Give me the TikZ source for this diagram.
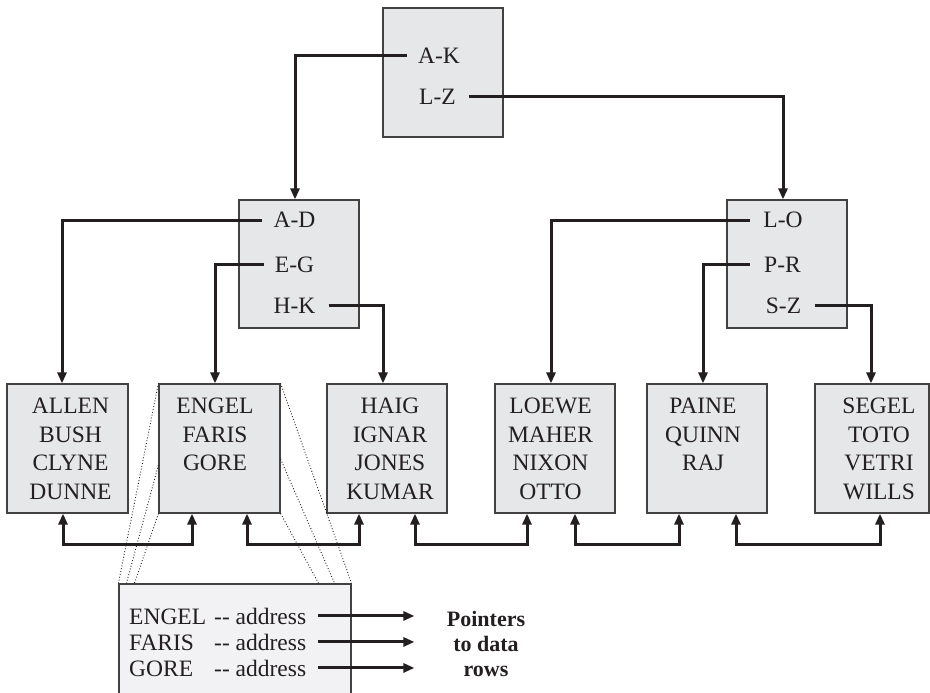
\documentclass[tikz,border=0pt]{standalone}
\usepackage{fontspec}
\setmainfont{Liberation Serif}
\usetikzlibrary{arrows.meta}
\definecolor{boxfill}{RGB}{230,231,233}
\definecolor{addrfill}{RGB}{242,242,244}
\definecolor{ink}{RGB}{35,31,32}
\begin{document}
\begin{tikzpicture}[x=1pt,y=-1pt,
  box/.style={draw=ink!85, line width=1.2pt, fill=boxfill, inner sep=0, minimum width=120pt, minimum height=129pt},
  lbl/.style={inner sep=0, text=ink, font=\fontsize{23.5}{28.5}\selectfont},
  conn/.style={draw=ink, line width=3pt, -{Triangle[length=11pt,width=9pt]}},
  link/.style={draw=ink, line width=3pt, {Triangle[length=11pt,width=9pt]}-{Triangle[length=11pt,width=9pt]}},
  dots/.style={draw=ink, line width=0.9pt, dotted}]
\clip (0,0) rectangle (930,693);
% boxes
\node[box] (T) at (443,72.5) {};
\node[box, minimum height=128pt] (ML) at (299,264) {};
\node[box, minimum height=128pt] (MR) at (787,264) {};
\node[box, minimum width=121pt] (B1) at (67.5,448.5) {};
\node[box, minimum width=121pt] (B2) at (219.5,448.5) {};
\node[box] (B3) at (387,448.5) {};
\node[box] (B4) at (555,448.5) {};
\node[box] (B5) at (707,448.5) {};
\node[box, minimum width=114pt] (B6) at (872,448.5) {};
\node[box, fill=addrfill, minimum width=232pt, minimum height=130pt] (addrbox) at (235,649) {};
% key labels
\node[lbl] (AK) at (439,56) {A-K};
\node[lbl] (LZ) at (437.5,97) {L-Z};
\node[lbl] (AD) at (294.5,220) {A-D};
\node[lbl] (EG) at (294.5,264.5) {E-G};
\node[lbl] (HK) at (294.5,305.5) {H-K};
\node[lbl] (LO) at (783,220) {L-O};
\node[lbl] (PR) at (782.5,264.5) {P-R};
\node[lbl] (SZ) at (783.5,305.5) {S-Z};
% leaf texts
\node[lbl, align=center, anchor=north] (t1) at (70.5,398) {ALLEN\\BUSH\\CLYNE\\DUNNE};
\node[lbl, align=center, anchor=north] (t2) at (215,398) {ENGEL\\FARIS\\GORE};
\node[lbl, align=center, anchor=north] (t3) at (390,398) {HAIG\\IGNAR\\JONES\\KUMAR};
\node[lbl, align=center, anchor=north] (t4) at (550.5,398) {LOEWE\\MAHER\\NIXON\\OTTO};
\node[lbl, align=center, anchor=north] (t5) at (703,398) {PAINE\\QUINN\\RAJ};
\node[lbl, align=center, anchor=north] (t6) at (879,398) {SEGEL\\TOTO\\VETRI\\WILLS};
% address box texts
\node[lbl, anchor=base west] (n1) at (129,624) {ENGEL};
\node[lbl, anchor=base west] (n2) at (129,650) {FARIS};
\node[lbl, anchor=base west] (n3) at (129,676) {GORE};
\node[lbl, anchor=base west] (a1) at (214,624) {-\kern0pt- address};
\node[lbl, anchor=base west] (a2) at (214,650) {-\kern0pt- address};
\node[lbl, anchor=base west] (a3) at (214,676) {-\kern0pt- address};
\node[inner sep=0, text=ink, font=\bfseries\fontsize{22}{25}\selectfont, align=center, anchor=north] (ptr) at (486,611) {Pointers\\to data\\rows};
% tree connectors
\draw[conn] ([xshift=-11pt]AK.west) -| ([xshift=-4pt]ML.north);
\draw[conn] ([xshift=13pt]LZ.east) -| ([xshift=-4pt]MR.north);
\draw[conn] ([xshift=-11pt]AD.west) -| ([xshift=-5.5pt]B1.north);
\draw[conn] ([xshift=-11pt]EG.west) -| ([xshift=-4.5pt]B2.north);
\draw[conn] ([xshift=13pt]HK.east) -| ([xshift=-4pt]B3.north);
\draw[conn] ([xshift=-13pt]LO.west) -| ([xshift=-4pt]B4.north);
\draw[conn] ([xshift=-14pt]PR.west) -| ([xshift=-4pt]B5.north);
\draw[conn] ([xshift=14pt]SZ.east) -| ([xshift=-1pt]B6.north);
% leaf links
\draw[link] ([xshift=-4.5pt]B1.south) -- ++(0,31) -| ([xshift=-27.5pt]B2.south);
\draw[link] ([xshift=27.5pt]B2.south) -- ++(0,31) -| ([xshift=-28pt]B3.south);
\draw[link] ([xshift=28pt]B3.south) -- ++(0,31) -| ([xshift=-28pt]B4.south);
\draw[link] ([xshift=20pt]B4.south) -- ++(0,31) -| ([xshift=-28pt]B5.south);
\draw[link] ([xshift=29pt]B5.south) -- ++(0,31) -| ([xshift=8pt]B6.south);
% zoom lines
\draw[dots] (B2.north west) -- (addrbox.north west);
\draw[dots] ([yshift=-16.5pt]B2.west) -- ([xshift=8pt]addrbox.north west);
\draw[dots] (B2.south west) -- ([xshift=16pt]addrbox.north west);
\draw[dots] (B2.north east) -- (addrbox.north east);
\draw[dots] ([yshift=-10.5pt]B2.east) -- ([xshift=-17pt]addrbox.north east);
\draw[dots] (B2.south east) -- ([xshift=-33pt]addrbox.north east);
% pointer arrows
\draw[conn] ([xshift=12pt]a1.east) -- ++(96,0);
\draw[conn] ([xshift=12pt]a2.east) -- ++(96,0);
\draw[conn] ([xshift=12pt]a3.east) -- ++(96,0);
\end{tikzpicture}
\end{document}
